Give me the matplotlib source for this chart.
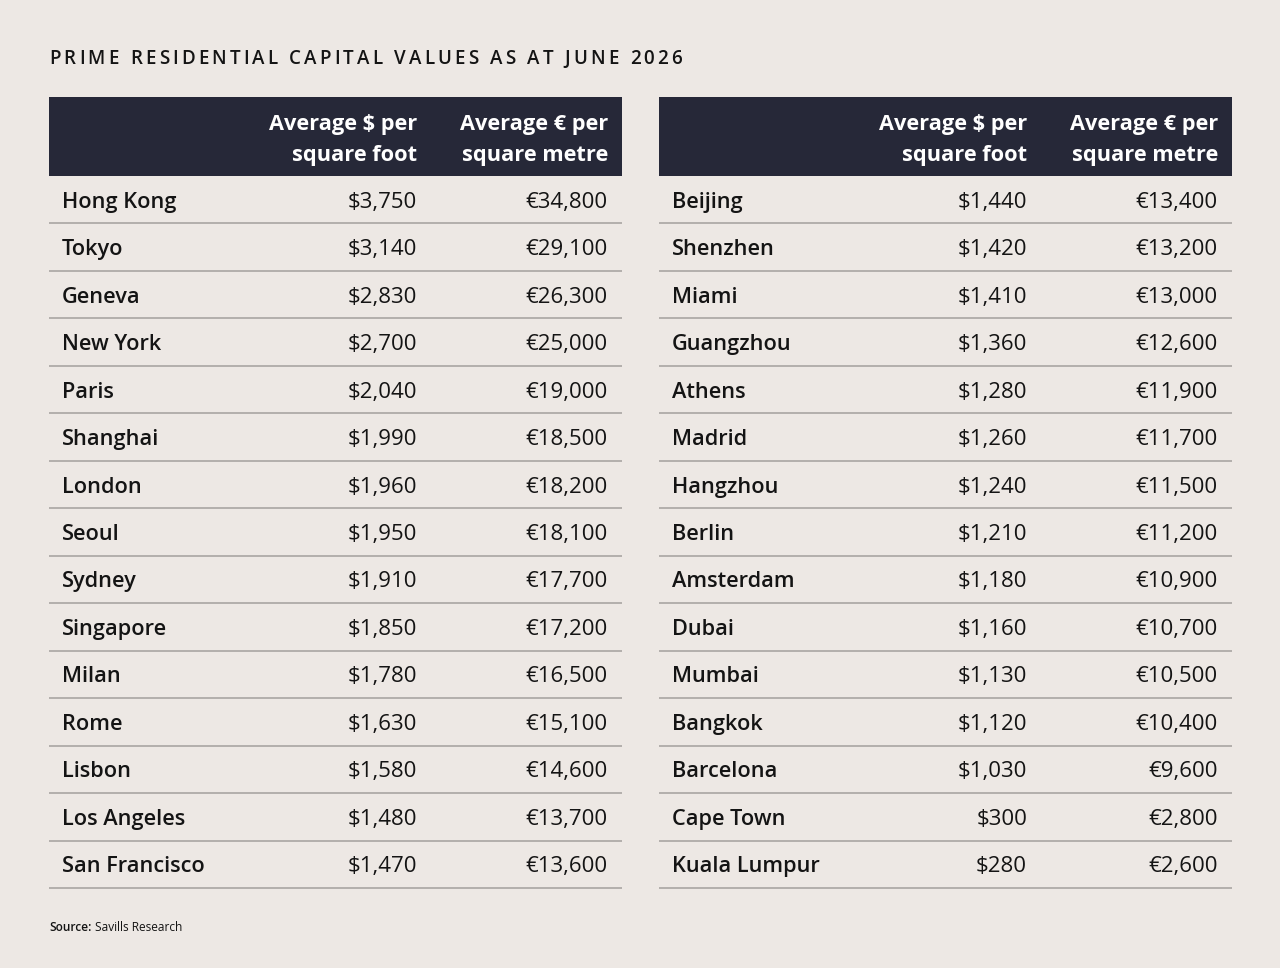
import matplotlib
matplotlib.use("Agg")
import matplotlib.pyplot as plt
from matplotlib.patches import Rectangle

plt.rcParams['font.family'] = ['Open Sans', 'DejaVu Sans']

# data
title = "PRIME RESIDENTIAL CAPITAL VALUES AS AT JUNE 2026"
col_headers = ["Average $ per\nsquare foot", "Average € per\nsquare metre"]

cities_left = ["Hong Kong", "Tokyo", "Geneva", "New York", "Paris", "Shanghai",
               "London", "Seoul", "Sydney", "Singapore", "Milan", "Rome",
               "Lisbon", "Los Angeles", "San Francisco"]
usd_left = [3750, 3140, 2830, 2700, 2040, 1990, 1960, 1950, 1910, 1850,
            1780, 1630, 1580, 1480, 1470]
eur_left = [34800, 29100, 26300, 25000, 19000, 18500, 18200, 18100, 17700,
            17200, 16500, 15100, 14600, 13700, 13600]

cities_right = ["Beijing", "Shenzhen", "Miami", "Guangzhou", "Athens", "Madrid",
                "Hangzhou", "Berlin", "Amsterdam", "Dubai", "Mumbai", "Bangkok",
                "Barcelona", "Cape Town", "Kuala Lumpur"]
usd_right = [1440, 1420, 1410, 1360, 1280, 1260, 1240, 1210, 1180, 1160,
             1130, 1120, 1030, 300, 280]
eur_right = [13400, 13200, 13000, 12600, 11900, 11700, 11500, 11200, 10900,
             10700, 10500, 10400, 9600, 2800, 2600]

BG = "#ede8e4"
HEAD = "#262838"
LINE = "#aeaba8"
INK = "#141414"

W, H = 1280, 968
fig = plt.figure(figsize=(W / 100, H / 100), dpi=100, facecolor=BG)
ax = fig.add_axes([0, 0, 1, 1])
ax.set_xlim(0, W)
ax.set_ylim(H, 0)
ax.axis("off")
ax.set_facecolor(BG)

fig.canvas.draw()
renderer = fig.canvas.get_renderer()

# title with letter spacing, stretched to the reference width
title_x0, title_x1 = 49, 682
parts = []
total = 0
for ch in title:
    t = ax.text(0, 64.5, ch, fontsize=13.5, fontweight="semibold", color=INK,
                va="baseline", ha="left")
    w = t.get_window_extent(renderer).width if ch != " " else 5
    parts.append((t, w))
    total += w
gap = (title_x1 - title_x0 - total) / (len(title) - 1)
x = title_x0
for t, w in parts:
    t.set_x(x)
    x += w + gap


def draw_table(x0, x1, cities, usd, eur):
    head_top, head_bot = 97, 176
    ax.add_patch(Rectangle((x0, head_top), x1 - x0, head_bot - head_top,
                           facecolor=HEAD, edgecolor="none"))
    c1 = x0 + 368
    c2 = x0 + 559
    for cx, lab in zip([c1, c2], col_headers):
        l1, l2 = lab.split("\n")
        ax.text(cx, 130, l1, ha="right", va="baseline", color="white",
                fontsize=15.7, fontweight="bold")
        ax.text(cx, 161.5, l2, ha="right", va="baseline", color="white",
                fontsize=15.7, fontweight="bold")
    step = (888 - head_bot) / len(cities)
    for i, (c, u, e) in enumerate(zip(cities, usd, eur)):
        yb = head_bot + step * (i + 0.5) + 8
        ax.text(x0 + 13, yb, c, ha="left", va="baseline", color=INK,
                fontsize=15.7, fontweight="semibold")
        ax.text(c1, yb, "${:,}".format(u), ha="right", va="baseline",
                color=INK, fontsize=16)
        ax.text(c2, yb, "€{:,}".format(e), ha="right", va="baseline",
                color=INK, fontsize=16)
        yl = head_bot + step * (i + 1)
        ax.plot([x0, x1], [yl, yl], color=LINE, lw=1.3,
                solid_capstyle="butt")


draw_table(49, 622, cities_left, usd_left, eur_left)
draw_table(659, 1232, cities_right, usd_right, eur_right)

# source
t = ax.text(49, 931, "Source:", fontsize=8.6, fontweight="semibold", color=INK,
            va="baseline", ha="left")
bb = t.get_window_extent(renderer)
ax.text(49 + bb.width + 3.5, 931, "Savills Research", fontsize=8.6, color=INK,
        va="baseline", ha="left")

fig.savefig("out.png", dpi=100, facecolor=BG)
